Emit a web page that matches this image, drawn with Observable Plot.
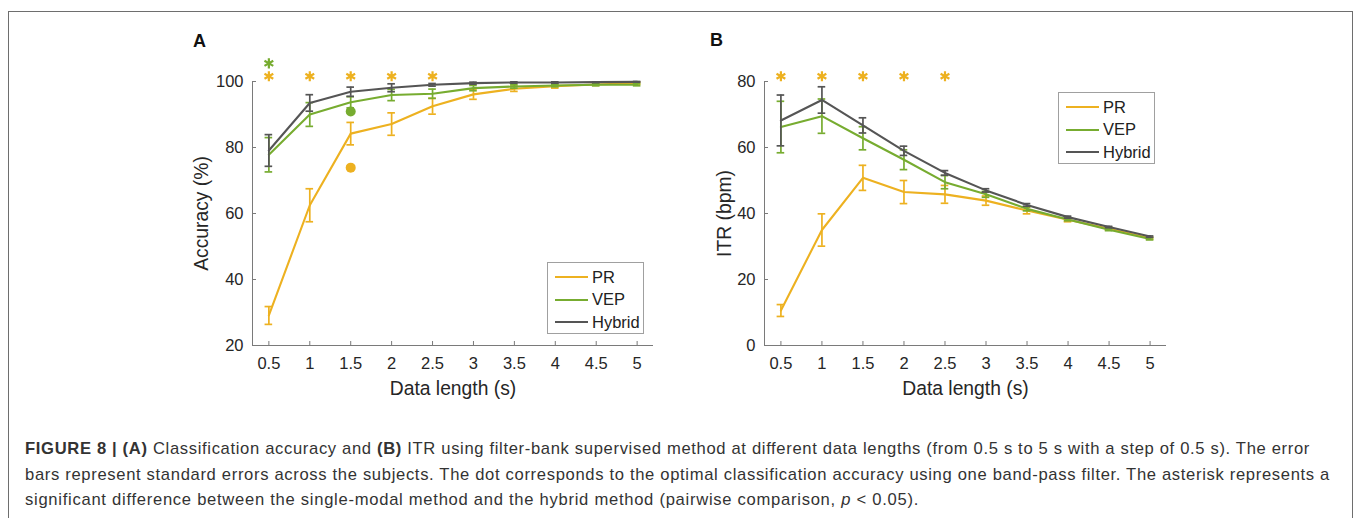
<!DOCTYPE html>
<html>
<head>
<meta charset="utf-8">
<script src="https://cdn.jsdelivr.net/npm/d3@7"></script>
<script src="https://cdn.jsdelivr.net/npm/@observablehq/plot@0.6"></script>
<style>
  html, body { margin: 0; padding: 0; background: #fff; }
  body { font-family: "Liberation Sans", Arial, Helvetica, sans-serif; }
  #fig { position: relative; width: 1357px; height: 518px; overflow: hidden; background: #fff; }
  #frame { position: absolute; left: 8px; top: 11px; width: 1345px; height: 530px; border: 1.5px solid #6e6e6e; box-sizing: border-box; }
  .panel { position: absolute; top: 30px; }
  .plabel { position: absolute; font-weight: bold; font-size: 18px; color: #111; line-height: 1; }
  .legend { position: absolute; background: #fff; border: 1px solid #a0a0a0; box-sizing: border-box; }
  .legend .row { position: absolute; left: 0; height: 22px; display: flex; align-items: center; font-size: 16.5px; color: #222; }
  .legend .sw { display: inline-block; width: 33px; height: 2px; margin-left: 7px; margin-right: 4px; }
  .capline { position: absolute; left: 25px; font-size: 16.6px; line-height: 20px; color: #333; white-space: nowrap; }
</style>
</head>
<body>
<div id="fig">
  <div id="frame"></div>
  <div id="panelA" class="panel" style="left:170px"></div>
  <div id="panelB" class="panel" style="left:682px"></div>
  <div class="plabel" style="left:193px;top:32px">A</div>
  <div class="plabel" style="left:710px;top:31px">B</div>
  <div id="legendA" class="legend" style="left:547px;top:262px;width:97px;height:72px"></div>
  <div id="legendB" class="legend" style="left:1058px;top:92px;width:97px;height:72px"></div>
  <div class="capline" data-w="1285" style="top:439px"><b>FIGURE 8 | (A)</b> Classification accuracy and <b>(B)</b> ITR using filter-bank supervised method at different data lengths (from 0.5 s to 5 s with a step of 0.5 s). The error</div>
  <div class="capline" data-w="1305" style="top:465px">bars represent standard errors across the subjects. The dot corresponds to the optimal classification accuracy using one band-pass filter. The asterisk represents a</div>
  <div class="capline" data-w="894" style="top:490px">significant difference between the single-modal method and the hybrid method (pairwise comparison, <i>p</i> &lt; 0.05).</div>
</div>
<script>
// ---- data ----
const lengths = [0.5, 1, 1.5, 2, 2.5, 3, 3.5, 4, 4.5, 5];
const seriesNames = ["PR", "VEP", "Hybrid"];
const seriesColors = ["#EDB120", "#77AC30", "#555555"];

const accPR    = [29.1, 62.5, 84.2, 87.1, 92.5, 96.1, 97.8, 98.6, 99.1, 99.5];
const accPRse  = [2.7, 5.0, 3.4, 3.4, 2.4, 1.5, 0.8, 0.6, 0.3, 0.3];
const accVEP   = [77.8, 90.0, 93.7, 95.9, 96.3, 98.0, 98.5, 98.8, 99.0, 99.0];
const accVEPse = [5.2, 3.6, 1.7, 1.7, 1.4, 0.8, 0.5, 0.4, 0.3, 0.3];
const accHyb   = [79.1, 93.5, 96.9, 98.1, 99.0, 99.5, 99.7, 99.7, 99.8, 99.9];
const accHybse = [4.8, 2.5, 1.4, 1.2, 0.4, 0.3, 0.2, 0.2, 0.1, 0.1];

const itrPR    = [10.6, 35.0, 50.8, 46.5, 45.8, 43.9, 40.9, 38.1, 35.4, 32.5];
const itrPRse  = [1.8, 4.9, 3.8, 3.5, 2.7, 1.4, 1.0, 0.6, 0.4, 0.3];
const itrVEP   = [66.2, 69.5, 62.8, 56.3, 49.5, 45.8, 41.4, 38.2, 35.1, 32.3];
const itrVEPse = [7.8, 5.2, 3.5, 3.0, 2.0, 0.9, 0.6, 0.4, 0.3, 0.3];
const itrHyb   = [68.2, 74.4, 66.7, 59.0, 52.3, 47.0, 42.6, 38.9, 35.9, 33.0];
const itrHybse = [7.7, 4.0, 2.3, 1.4, 0.7, 0.5, 0.4, 0.3, 0.2, 0.2];

// optimal single band-pass filter accuracy (dots, panel A)
const dotX = [1.5, 1.5];
const dotY = [73.9, 90.9];
const dotSeries = ["PR", "VEP"];

// significance asterisks
const starAX = [0.5, 1, 1.5, 2, 2.5, 0.5];
const starAY = [101.6, 101.6, 101.6, 101.6, 101.6, 105.5];
const starASeries = ["PR", "PR", "PR", "PR", "PR", "VEP"];
const starBX = [0.5, 1, 1.5, 2, 2.5];
const starBY = [81.6, 81.6, 81.6, 81.6, 81.6];
const starBSeries = ["PR", "PR", "PR", "PR", "PR"];

const xTicks = [0.5, 1, 1.5, 2, 2.5, 3, 3.5, 4, 4.5, 5];
const yTicksA = [20, 40, 60, 80, 100];
const yTicksB = [0, 20, 40, 60, 80];

// ---- helpers ----
const colorOf = s => seriesColors[seriesNames.indexOf(s)];
function table(means, ses) {
  const rows = [];
  seriesNames.forEach((s, i) => {
    lengths.forEach((x, j) => rows.push({series: s, x, y: means[i][j], se: ses[i][j]}));
  });
  return rows;
}

const W = 500, H = 370, mL = 82, mR = 17, mT = 51, mB = 55;
const xDom = [0.3, 5.2];
const axisColor = "#7a7a7a";
const textColor = "#262626";
const fontFamily = '"Liberation Sans", Arial, Helvetica, sans-serif';

function panel({rows, yDom, yTicks, yLabel, labelDx, dots, stars, marginRight}) {
  const mr = marginRight ?? mR;
  const pxX = (W - mL - mr) / (xDom[1] - xDom[0]);
  const pxY = (H - mT - mB) / (yDom[1] - yDom[0]);
  const tick = 4;
  const cap = 3.8 / pxX;
  const marks = [];
  // axes lines
  marks.push(Plot.ruleY([yDom[0]], {x1: xDom[0], x2: xDom[1], stroke: axisColor, strokeWidth: 1}));
  marks.push(Plot.ruleX([xDom[0]], {y1: yDom[0], y2: yDom[1], stroke: axisColor, strokeWidth: 1}));
  // inward ticks
  marks.push(Plot.ruleX(xTicks, {x: d => d, y1: yDom[0], y2: yDom[0] + tick / pxY, stroke: axisColor}));
  marks.push(Plot.ruleY(yTicks, {y: d => d, x1: xDom[0], x2: xDom[0] + tick / pxX, stroke: axisColor}));
  // tick labels
  marks.push(Plot.axisX({ticks: xTicks, tickSize: 0, tickPadding: 12, tickFormat: d => String(d), fill: textColor, fontSize: 16.5, label: null}));
  marks.push(Plot.axisY({ticks: yTicks, tickSize: 0, tickPadding: 9, tickFormat: d => String(d), fill: textColor, fontSize: 16.5, label: null}));
  // axis titles
  marks.push(Plot.text([yLabel], {frameAnchor: "left", rotate: -90, dx: labelDx, text: d => d, fill: textColor, fontSize: 19.3, textAnchor: "middle", lineAnchor: "middle"}));
  marks.push(Plot.text(["Data length (s)"], {frameAnchor: "bottom", dy: 43, text: d => d, fill: textColor, fontSize: 19.3, textAnchor: "middle", lineAnchor: "middle"}));
  // series: error bars and lines
  seriesNames.forEach(s => {
    const data = rows.filter(r => r.series === s);
    const c = colorOf(s);
    marks.push(Plot.ruleX(data, {x: "x", y1: d => d.y - d.se, y2: d => d.y + d.se, stroke: c, strokeWidth: 1.7}));
    marks.push(Plot.ruleY(data, {y: d => d.y - d.se, x1: d => d.x - cap, x2: d => d.x + cap, stroke: c, strokeWidth: 1.7}));
    marks.push(Plot.ruleY(data, {y: d => d.y + d.se, x1: d => d.x - cap, x2: d => d.x + cap, stroke: c, strokeWidth: 1.7}));
    marks.push(Plot.line(data, {x: "x", y: "y", stroke: c, strokeWidth: 2.1}));
  });
  if (dots) marks.push(Plot.dot(dots, {x: "x", y: "y", r: 5, fill: d => colorOf(d.series), stroke: null}));
  if (stars) marks.push(Plot.dot(stars, {x: "x", y: "y", symbol: "asterisk", r: 4.8, stroke: d => colorOf(d.series), strokeWidth: 2.2, fill: "none"}));
  return Plot.plot({
    width: W, height: H,
    marginLeft: mL, marginRight: mr, marginTop: mT, marginBottom: mB,
    x: {domain: xDom, axis: null},
    y: {domain: yDom, axis: null},
    style: {fontFamily, fontSize: "16.5px", background: "transparent", overflow: "visible"},
    marks
  });
}

const rowsA = table([accPR, accVEP, accHyb], [accPRse, accVEPse, accHybse]);
const rowsB = table([itrPR, itrVEP, itrHyb], [itrPRse, itrVEPse, itrHybse]);
const dotsA = dotX.map((x, i) => ({x, y: dotY[i], series: dotSeries[i]}));
const starsA = starAX.map((x, i) => ({x, y: starAY[i], series: starASeries[i]}));
const starsB = starBX.map((x, i) => ({x, y: starBY[i], series: starBSeries[i]}));

document.getElementById("panelA").append(panel({rows: rowsA, yDom: [20, 100], yTicks: yTicksA, yLabel: "Accuracy (%)", labelDx: -51, dots: dotsA, stars: starsA}));
document.getElementById("panelB").append(panel({rows: rowsB, yDom: [0, 80], yTicks: yTicksB, yLabel: "ITR (bpm)", labelDx: -40, stars: starsB, marginRight: 16}));

// legends
function legend(id) {
  const el = document.getElementById(id);
  seriesNames.forEach((s, i) => {
    const row = document.createElement("div");
    row.className = "row";
    row.style.top = (3 + i * 22.5) + "px";
    const sw = document.createElement("span");
    sw.className = "sw";
    sw.style.background = seriesColors[i];
    const t = document.createElement("span");
    t.textContent = s;
    row.append(sw, t);
    el.append(row);
  });
}
legend("legendA");
legend("legendB");

// fit caption lines to the reference line widths
document.querySelectorAll(".capline").forEach(el => {
  const target = +el.dataset.w;
  const natural = el.getBoundingClientRect().width;
  const n = el.textContent.length;
  el.style.letterSpacing = ((target - natural) / n) + "px";
});
</script>
</body>
</html>
